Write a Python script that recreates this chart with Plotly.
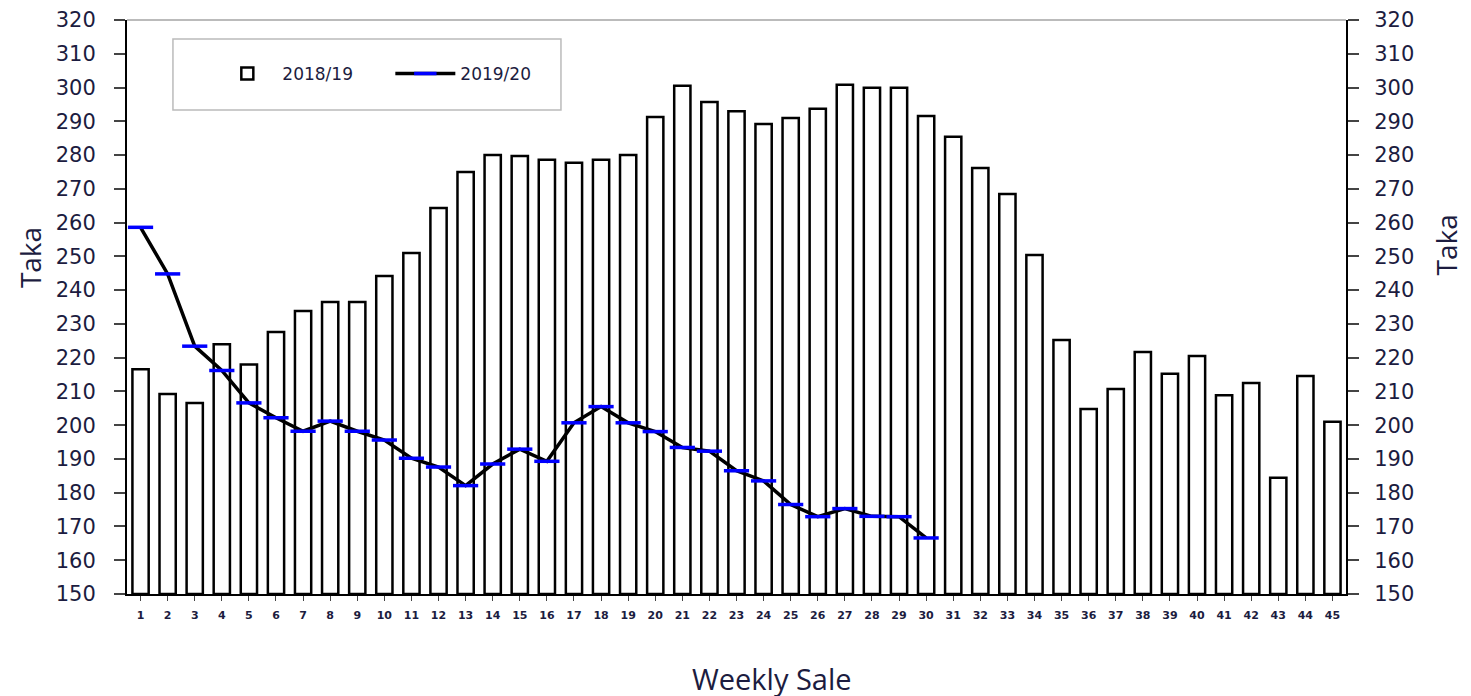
import plotly.graph_objects as go

weeks = list(range(1, 46))
week_labels = [str(w) for w in weeks]

sales_2018_19 = [216.6, 209.2, 206.6, 224.0, 218.0, 227.6, 233.8, 236.5, 236.5, 244.2,
                 251.0, 264.3, 275.0, 280.0, 279.7, 278.6, 277.7, 278.6, 280.0, 291.3,
                 300.5, 295.7, 293.0, 289.2, 291.0, 293.7, 300.8, 299.9, 299.9, 291.6,
                 285.4, 276.2, 268.5, 250.4, 225.2, 204.8, 210.7, 221.7, 215.2, 220.5,
                 208.9, 212.5, 184.4, 214.6, 201.0]

weeks_2019_20 = list(range(1, 31))
sales_2019_20 = [258.6, 244.8, 223.4, 216.2, 206.6, 202.2, 198.2, 201.2, 198.2, 195.6,
                 190.2, 187.6, 182.1, 188.5, 192.9, 189.3, 200.7, 205.5, 200.7, 198.1,
                 193.4, 192.3, 186.5, 183.5, 176.5, 172.9, 175.3, 173.0, 172.9, 166.6]

y_ticks = list(range(150, 330, 10))

font_family = "DejaVu Sans"
tick_color = "#1c1c40"

fig = go.Figure()
fig.add_trace(go.Bar(
    x=weeks, y=[v - 150 for v in sales_2018_19], base=150, name="2018/19",
    marker=dict(color="white", line=dict(color="black", width=2.5)),
    width=0.6,
))
fig.add_trace(go.Scatter(
    x=weeks_2019_20, y=sales_2019_20, name="2019/20", mode="lines+markers",
    line=dict(color="black", width=3.5),
    marker=dict(symbol="line-ew", size=18, color="blue", line=dict(color="blue", width=3.5)),
))
# invisible trace so the right-hand axis is drawn
fig.add_trace(go.Scatter(
    x=weeks_2019_20, y=sales_2019_20, yaxis="y2", mode="lines", opacity=0,
    showlegend=False, hoverinfo="skip",
))

axis_common = dict(
    range=[150, 320], tickvals=y_ticks, ticktext=[str(t) for t in y_ticks],
    showgrid=False, zeroline=False, showline=True, linecolor="black", linewidth=2,
    ticks="outside", ticklen=11, tickcolor="#444", tickwidth=1.5, automargin=False,
    ticklabeloverflow="allow",
    tickfont=dict(family=font_family, size=21, color=tick_color),
)

fig.update_layout(
    width=1471, height=696,
    margin=dict(l=119, r=133, t=12, b=110),
    paper_bgcolor="white", plot_bgcolor="white",
    showlegend=True,
    legend=dict(
        orientation="h", x=0.07, y=0.906, xanchor="left", yanchor="middle",
        font=dict(family=font_family, size=17, color=tick_color),
        bgcolor="rgba(0,0,0,0)", entrywidth=103, itemwidth=60,
    ),
    xaxis=dict(
        range=[0.5, 45.5], tickvals=weeks, ticktext=week_labels, tickson="boundaries",
        showgrid=False, zeroline=False, showline=True, linecolor="black", linewidth=2,
        ticks="outside", ticklen=5, tickcolor="#444", automargin=False, ticklabelstandoff=5,
        tickfont=dict(family=font_family, size=11, color=tick_color, weight="bold"), tickangle=0,
    ),
    yaxis=dict(**axis_common, side="left", ticklabelstandoff=14),
    yaxis2=dict(**axis_common, side="right", overlaying="y", ticklabelstandoff=11),
    shapes=[
        dict(type="line", xref="paper", yref="paper", x0=0, x1=1, y0=1, y1=1,
             line=dict(color="#bbbbbb", width=2)),
        dict(type="rect", xref="paper", yref="paper", x0=0.0377, x1=0.356, y0=0.843, y1=0.967,
             line=dict(color="#bbbbbb", width=1.5), fillcolor="rgba(0,0,0,0)"),
    ],
    annotations=[
        dict(text="Taka", xref="paper", yref="paper", x=-0.08, y=0.586, showarrow=False,
             textangle=-90, font=dict(family="Open Sans", size=28, color=tick_color),
             xanchor="center", yanchor="middle"),
        dict(text="Taka", xref="paper", yref="paper", x=1.082, y=0.609, showarrow=False,
             textangle=-90, font=dict(family="Open Sans", size=28, color=tick_color),
             xanchor="center", yanchor="middle"),
        dict(text="Weekly Sale", xref="paper", yref="paper", x=0.529, y=-0.148, showarrow=False,
             font=dict(family="Open Sans", size=29, color=tick_color),
             xanchor="center", yanchor="middle"),
    ],
)

fig.write_html("out.html")
